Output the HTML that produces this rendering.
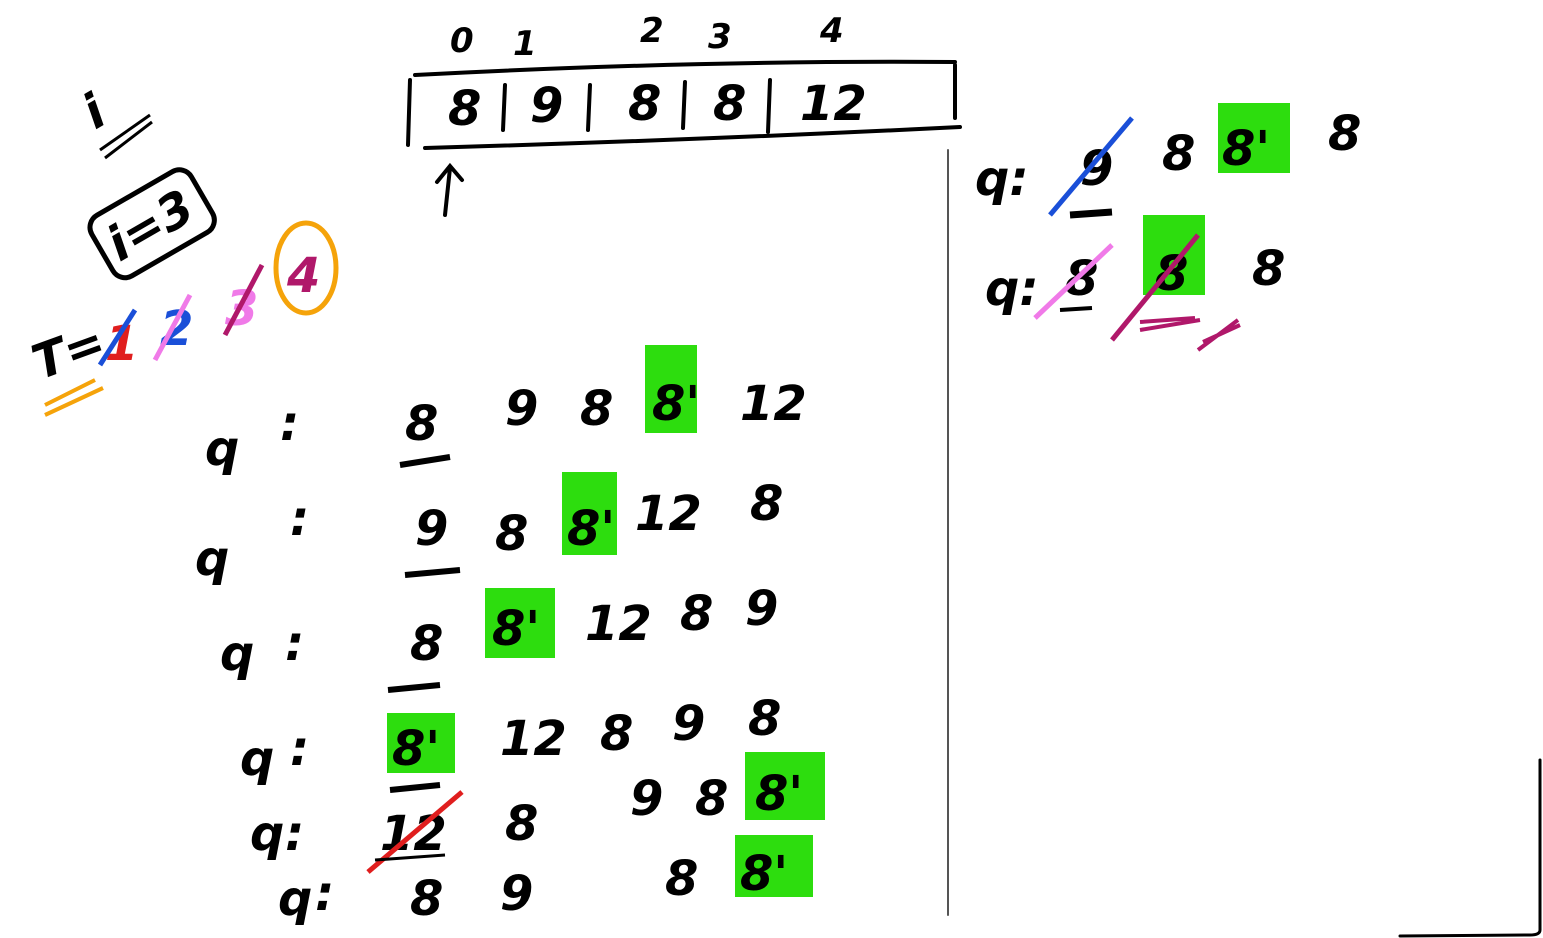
<!DOCTYPE html>
<html><head><meta charset="utf-8"><title>Queue sketch</title>
<style>
html,body{margin:0;padding:0;background:#fff;}
svg{display:block;}
text{font-family:"DejaVu Sans","Liberation Sans",sans-serif;fill:#000;}
.h{font-size:48px;font-style:oblique;font-weight:bold;}
.s{font-size:34px;font-style:oblique;font-weight:bold;}
</style></head>
<body>
<svg width="1543" height="938" viewBox="0 0 1543 938">
<rect width="1543" height="938" fill="#fff"/>
<g fill="#2ddd0e">
<rect x="645" y="345" width="52" height="88"/>
<rect x="562" y="472" width="55" height="83"/>
<rect x="485" y="588" width="70" height="70"/>
<rect x="387" y="713" width="68" height="60"/>
<rect x="745" y="752" width="80" height="68"/>
<rect x="735" y="835" width="78" height="62"/>
<rect x="1218" y="103" width="72" height="70"/>
<rect x="1143" y="215" width="62" height="80"/>
</g>
<g stroke="#000" stroke-width="4" fill="none" stroke-linecap="round">
<path d="M415 75 Q700 60 955 62"/>
<path d="M425 148 Q700 140 960 127"/>
<path d="M410 80 L408 145"/>
<path d="M955 65 L955 118"/>
<path d="M505 85 L503 130"/><path d="M590 85 L588 130"/><path d="M685 82 L683 128"/><path d="M770 80 L768 132"/>
<path d="M445 215 L450 168 M437 182 L450 166 L462 180"/>
<path d="M948 150 L948 915" stroke="#555" stroke-width="2"/>
<path d="M1540 760 L1540 930 Q1540 935 1530 935 L1400 936" stroke-width="3"/>
</g>
<g class="s">
<text x="450" y="52">0</text><text x="513" y="55">1</text><text x="640" y="42">2</text><text x="708" y="48">3</text><text x="820" y="42">4</text>
</g>
<g class="h">
<text x="448" y="125">8</text><text x="530" y="122">9</text><text x="628" y="120">8</text><text x="713" y="120">8</text><text x="800" y="120">12</text>
</g>
<g>
<text x="95" y="130" class="h" transform="rotate(-30 95 130)">i</text>
<path d="M100 150 L150 115 M105 158 L152 122" stroke="#000" stroke-width="3"/>
<g transform="rotate(-30 150 225)">
<rect x="95" y="190" width="115" height="70" rx="14" fill="none" stroke="#000" stroke-width="5"/>
<text x="105" y="242" class="h">i=3</text>
</g>
<text x="40" y="380" class="h" transform="rotate(-20 40 380)">T=</text>
<text x="105" y="360" class="h" style="fill:#e01e1e">1</text>
<path d="M100 365 L135 310" stroke="#1a4fd8" stroke-width="5"/>
<text x="160" y="345" class="h" style="fill:#1a4fd8">2</text>
<path d="M155 360 L190 295" stroke="#f07ae8" stroke-width="5"/>
<text x="225" y="325" class="h" style="fill:#f07ae8">3</text>
<path d="M225 335 L262 265" stroke="#b0186a" stroke-width="5"/>
<ellipse cx="306" cy="268" rx="30" ry="45" fill="none" stroke="#f5a30a" stroke-width="5"/>
<text x="287" y="292" class="h" style="fill:#b0186a">4</text>
<path d="M45 405 L95 380 M45 415 L103 388" stroke="#f5a30a" stroke-width="4"/>
</g>
<g class="h">
<text x="205" y="465">q</text><text x="280" y="440">:</text>
<text x="405" y="440">8</text><text x="505" y="425">9</text><text x="580" y="425">8</text><text x="652" y="420">8'</text><text x="740" y="420">12</text>
<path d="M400 465 L450 457" stroke="#000" stroke-width="6"/>
<text x="195" y="575">q</text><text x="290" y="535">:</text>
<text x="415" y="545">9</text><text x="495" y="550">8</text><text x="567" y="545">8'</text><text x="635" y="530">12</text><text x="750" y="520">8</text>
<path d="M405 575 L460 570" stroke="#000" stroke-width="6"/>
<text x="220" y="670">q</text><text x="285" y="660">:</text>
<text x="410" y="660">8</text><text x="492" y="645">8'</text><text x="585" y="640">12</text><text x="680" y="630">8</text><text x="745" y="625">9</text>
<path d="M388 690 L440 685" stroke="#000" stroke-width="6"/>
<text x="240" y="775">q</text><text x="290" y="765">:</text>
<text x="392" y="765">8'</text><text x="500" y="755">12</text><text x="600" y="750">8</text><text x="672" y="740">9</text><text x="748" y="735">8</text>
<path d="M390 790 L440 785" stroke="#000" stroke-width="6"/>
<text x="250" y="850">q</text><text x="285" y="850">:</text>
<text x="380" y="850">12</text><text x="505" y="840">8</text><text x="630" y="815">9</text><text x="695" y="815">8</text><text x="755" y="810">8'</text>
<path d="M368 872 L462 792" stroke="#e01e1e" stroke-width="5"/>
<path d="M375 860 L445 855" stroke="#000" stroke-width="3"/>
<text x="278" y="915">q</text><text x="315" y="910">:</text>
<text x="410" y="915">8</text><text x="500" y="910">9</text><text x="665" y="895">8</text><text x="740" y="890">8'</text>
</g>
<g class="h">
<text x="975" y="195">q:</text>
<text x="1080" y="185">9</text><path d="M1050 215 L1132 118" stroke="#1a4fd8" stroke-width="5"/>
<path d="M1070 215 L1112 212" stroke="#000" stroke-width="7"/>
<text x="1162" y="170">8</text><text x="1222" y="165">8'</text><text x="1328" y="150">8</text>
<text x="985" y="305">q:</text>
<text x="1065" y="295">8</text><path d="M1035 318 L1112 245" stroke="#f07ae8" stroke-width="5"/>
<path d="M1060 310 L1092 308" stroke="#000" stroke-width="4"/>
<text x="1155" y="290">8</text><path d="M1112 340 L1198 235" stroke="#b0186a" stroke-width="5"/>
<path d="M1140 330 L1200 320 M1140 322 L1195 318 M1198 350 L1238 320 M1203 342 L1240 325" stroke="#b0186a" stroke-width="4"/>
<text x="1252" y="285">8</text>
</g>
</svg>
</body></html>
